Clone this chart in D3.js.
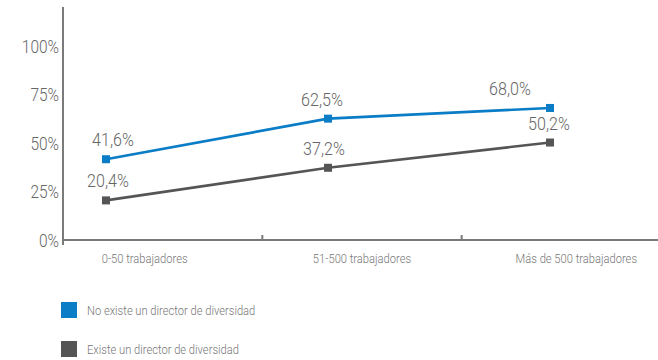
<!DOCTYPE html>
<html>
<head>
<meta charset="utf-8">
<script src="https://cdn.jsdelivr.net/npm/d3@7"></script>
<style>
  html, body { margin: 0; padding: 0; background: #fff; }
  svg { display: block; font-family: Roboto, "Liberation Sans", sans-serif; font-weight: 300; }
</style>
</head>
<body>
<svg id="chart" width="658" height="360"></svg>
<script>
// Company size buckets
const categories = ["0-50 trabajadores", "51-500 trabajadores", "Más de 500 trabajadores"];
// Share of companies (%) per bucket
const noDirector = [41.6, 62.5, 68.0];
const withDirector = [20.4, 37.2, 50.2];
const seriesNames = ["No existe un director de diversidad", "Existe un director de diversidad"];
const yTicks = [0, 25, 50, 75, 100];

const colors = ["#0a7dc6", "#555555"];
const series = [
  { name: seriesNames[0], values: noDirector, color: colors[0], nudge: [7, -6, -40] },
  { name: seriesNames[1], values: withDirector, color: colors[1], nudge: [2, -4, -1] }
];

const svg = d3.select("#chart");

// squeeze text horizontally to get a condensed face
function condense(sel, k) {
  sel.each(function () {
    const t = d3.select(this);
    const x = +t.attr("x") || 0;
    t.attr("x", x / k).attr("transform", `scale(${k},1)`);
  });
}

const y = d3.scaleLinear().domain([0, 120]).range([240, 7]);
const xBand = d3.scaleBand().domain(categories).range([63, 661]);
const xPoint = d3.scalePoint().domain(categories).range([106, 550]);

const axisColor = "#7a7a7a";

// y axis line
svg.append("line")
  .attr("x1", 63).attr("x2", 63)
  .attr("y1", y(120)).attr("y2", 245)
  .attr("stroke", axisColor).attr("stroke-width", 2);

// y tick labels
const yAxis = svg.append("g")
  .attr("transform", "translate(63,0)")
  .call(d3.axisLeft(y).tickValues(yTicks).tickSize(0).tickPadding(4).tickFormat(d => d + "%"));
yAxis.select(".domain").remove();
yAxis.selectAll("text")
  .attr("fill", "#666")
  .attr("font-size", 18)
  .attr("font-family", "Roboto, sans-serif")
  .attr("font-weight", 300)
  .attr("dy", "0.35em")
  .call(condense, 0.86);

// x axis with ticks at category boundaries
svg.append("line")
  .attr("x1", 63).attr("x2", 658)
  .attr("y1", y(0)).attr("y2", y(0))
  .attr("stroke", axisColor).attr("stroke-width", 2);

svg.selectAll(".xtick")
  .data(categories.slice(1))
  .join("line")
  .attr("class", "xtick")
  .attr("x1", d => xBand(d)).attr("x2", d => xBand(d))
  .attr("y1", y(0) - 5).attr("y2", y(0))
  .attr("stroke", axisColor).attr("stroke-width", 2);

const labelNudge = [-18, 0, 15];
svg.selectAll(".xlabel")
  .data(categories)
  .join("text")
  .attr("class", "xlabel")
  .attr("x", (d, i) => xBand(d) + xBand.bandwidth() / 2 + labelNudge[i])
  .attr("y", 263)
  .attr("text-anchor", "middle")
  .attr("font-size", 13)
  .attr("fill", "#777")
  .text(d => d)
  .call(condense, 0.86);

// lines, markers and value labels
const line = d3.line()
  .x((d, i) => xPoint(categories[i]))
  .y(d => y(d));

series.forEach(s => {
  svg.append("path")
    .datum(s.values)
    .attr("fill", "none")
    .attr("stroke", s.color)
    .attr("stroke-width", 2.6)
    .attr("d", line);

  svg.selectAll(null)
    .data(s.values)
    .join("rect")
    .attr("x", (d, i) => xPoint(categories[i]) - 4)
    .attr("y", d => y(d) - 4)
    .attr("width", 8).attr("height", 8)
    .attr("fill", s.color);

  svg.selectAll(null)
    .data(s.values)
    .join("text")
    .attr("x", (d, i) => xPoint(categories[i]) + s.nudge[i])
    .attr("y", d => y(d) - 13)
    .attr("text-anchor", "middle")
    .attr("font-size", 17.5)
    .attr("fill", "#666")
    .text(d => d3.format(".1f")(d).replace(".", ",") + "%")
    .call(condense, 0.92);
});

// legend
const legend = svg.selectAll(".legend")
  .data(series)
  .join("g")
  .attr("class", "legend")
  .attr("transform", (d, i) => `translate(61,${302 + i * 39})`);
legend.append("rect")
  .attr("width", 16).attr("height", 16)
  .attr("fill", d => d.color);
legend.append("text")
  .attr("x", 26).attr("y", 13)
  .attr("font-size", 13)
  .attr("fill", "#777")
  .text(d => d.name)
  .call(condense, 0.86);
</script>
</body>
</html>
